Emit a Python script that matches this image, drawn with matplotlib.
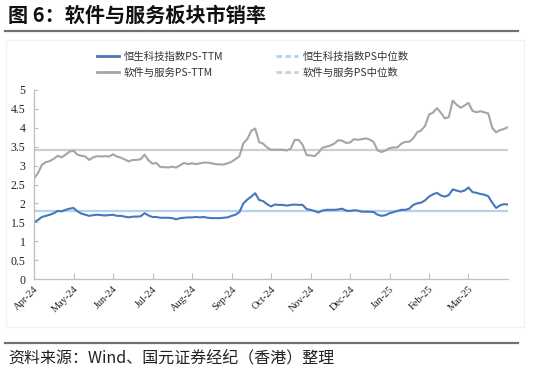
import matplotlib
matplotlib.use('Agg')
import matplotlib.pyplot as plt
from matplotlib.lines import Line2D
from matplotlib.patches import Rectangle
import numpy as np

## data (about 121 evenly spaced points, Apr-24 .. end Mar-25)
month_labels = ['Apr-24', 'May-24', 'Jun-24', 'Jul-24', 'Aug-24', 'Sep-24',
                'Oct-24', 'Nov-24', 'Dec-24', 'Jan-25', 'Feb-25', 'Mar-25']

hstech_ps = [1.50, 1.56, 1.64, 1.67, 1.70, 1.74, 1.80, 1.79, 1.83, 1.86,
             1.88, 1.79, 1.73, 1.70, 1.67, 1.69, 1.70, 1.69, 1.68, 1.69,
             1.70, 1.67, 1.67, 1.65, 1.63, 1.65, 1.65, 1.66, 1.74, 1.68,
             1.64, 1.64, 1.62, 1.62, 1.62, 1.61, 1.58, 1.61, 1.62, 1.63,
             1.63, 1.64, 1.63, 1.64, 1.62, 1.61, 1.61, 1.61, 1.62, 1.63,
             1.67, 1.70, 1.77, 2.00, 2.10, 2.18, 2.27, 2.09, 2.06, 1.98,
             1.92, 1.97, 1.96, 1.96, 1.94, 1.96, 1.97, 1.96, 1.96, 1.85,
             1.83, 1.80, 1.76, 1.81, 1.83, 1.83, 1.83, 1.84, 1.86, 1.81,
             1.80, 1.82, 1.81, 1.78, 1.78, 1.78, 1.77, 1.70, 1.67, 1.69,
             1.74, 1.77, 1.80, 1.83, 1.83, 1.86, 1.96, 2.00, 2.02, 2.08,
             2.18, 2.24, 2.28, 2.21, 2.18, 2.22, 2.37, 2.34, 2.31, 2.34,
             2.42, 2.30, 2.28, 2.25, 2.23, 2.19, 2.02, 1.88, 1.95, 1.98,
             1.97]

software_ps = [2.66, 2.80, 3.02, 3.09, 3.12, 3.18, 3.26, 3.22, 3.29, 3.37,
               3.39, 3.29, 3.26, 3.24, 3.15, 3.22, 3.25, 3.24, 3.25, 3.24,
               3.30, 3.24, 3.21, 3.16, 3.11, 3.15, 3.15, 3.17, 3.29, 3.14,
               3.05, 3.07, 2.96, 2.96, 2.95, 2.97, 2.95, 3.01, 3.07, 3.04,
               3.06, 3.04, 3.06, 3.08, 3.08, 3.06, 3.04, 3.03, 3.03, 3.06,
               3.10, 3.17, 3.25, 3.59, 3.70, 3.92, 3.98, 3.62, 3.58, 3.48,
               3.42, 3.42, 3.42, 3.42, 3.40, 3.45, 3.68, 3.68, 3.55, 3.28,
               3.27, 3.25, 3.34, 3.47, 3.50, 3.53, 3.58, 3.67, 3.66, 3.60,
               3.61, 3.70, 3.68, 3.70, 3.72, 3.69, 3.62, 3.40, 3.36, 3.40,
               3.46, 3.48, 3.48, 3.58, 3.63, 3.63, 3.72, 3.88, 3.93, 4.05,
               4.35, 4.40, 4.52, 4.40, 4.25, 4.28, 4.72, 4.61, 4.53, 4.59,
               4.66, 4.45, 4.41, 4.44, 4.41, 4.38, 4.00, 3.88, 3.94, 3.97,
               4.02]

hstech_median = 1.80
software_median = 3.40

cjk = ['Noto Sans CJK SC', 'DejaVu Sans']
serif = ['Liberation Serif', 'Noto Sans CJK SC']

W, H = 533, 373
fig = plt.figure(figsize=(W / 100, H / 100), dpi=100)

def fx(px):
    return px / W

def fy(py):
    return 1 - py / H

ax = fig.add_axes([fx(34), fy(279), fx(508) - fx(34), fy(90) - fy(279)])

x = np.arange(len(hstech_ps))
c_blue = '#4677bb'
c_gray = '#a5a5a5'
c_blue_med = '#b4d1ee'
c_gray_med = '#cfcfcf'

ax.plot(x, [software_median] * len(x), color=c_gray_med, lw=1.6, zorder=1)
ax.plot(x, [hstech_median] * len(x), color=c_blue_med, lw=1.6, zorder=1)
ax.plot(x, software_ps, color=c_gray, lw=1.5, zorder=2)
ax.plot(x, hstech_ps, color=c_blue, lw=1.5, zorder=2)

ax.set_xlim(0, len(x) - 1)
ax.set_ylim(0, 5)
ax.set_yticks(np.arange(0, 5.01, 0.5))
ax.set_yticklabels(['0', '0.5', '1', '1.5', '2', '2.5', '3', '3.5', '4', '4.5', '5'],
                   family=serif, fontsize=8.5, color='#222222')
ax.set_xticks(np.arange(0, 120, 10))
ax.set_xticklabels(month_labels, rotation=45, ha='right', va='top',
                   rotation_mode='anchor', family=serif, fontsize=7.5, color='#222222')
ax.tick_params(axis='y', direction='in', length=3, color='#bfbfbf', pad=6)
ax.tick_params(axis='x', direction='in', length=4, color='#bfbfbf', pad=4)
for s in ['top', 'right']:
    ax.spines[s].set_visible(False)
for s in ['left', 'bottom']:
    ax.spines[s].set_color('#bfbfbf')
    ax.spines[s].set_linewidth(0.9)

handles = [Line2D([], [], color=c_blue, lw=2),
           Line2D([], [], color=c_gray, lw=2),
           Line2D([], [], color=c_blue_med, lw=2, ls=(0, (2, 1.2))),
           Line2D([], [], color=c_gray_med, lw=2, ls=(0, (2, 1.2)))]
labels = ['恒生科技指数PS-TTM', '软件与服务PS-TTM', '恒生科技指数PS中位数', '软件与服务PS中位数']
fig.legend(handles, labels, ncol=2, loc='upper left', bbox_to_anchor=(fx(97), fy(52)),
           frameon=False, prop={'family': cjk, 'size': 7.5}, handlelength=2.1,
           handletextpad=0.5, columnspacing=5.0, labelspacing=0.55,
           borderpad=0, borderaxespad=0, labelcolor='#333333')

# title, rules, frame and source note
fig.text(fx(8), fy(15), '图 6：软件与服务板块市销率', family=cjk, fontsize=14.5,
         fontweight='bold', va='center', ha='left', color='#111111')
fig.add_artist(Line2D([fx(5), fx(518)], [fy(30.5), fy(30.5)], color='#707070', lw=1.6))
fig.add_artist(Rectangle((fx(6), fy(327)), fx(524) - fx(6), fy(40) - fy(327),
                         fill=False, edgecolor='#f2f2f2', lw=0.8))
fig.add_artist(Line2D([fx(5), fx(518)], [fy(343), fy(343)], color='#707070', lw=1.6))
fig.text(fx(8), fy(358), '资料来源：Wind、国元证券经纪（香港）整理', family=cjk,
         fontsize=11.5, style='italic', va='center', ha='left', color='#222222')

fig.savefig('out.png', dpi=100)
